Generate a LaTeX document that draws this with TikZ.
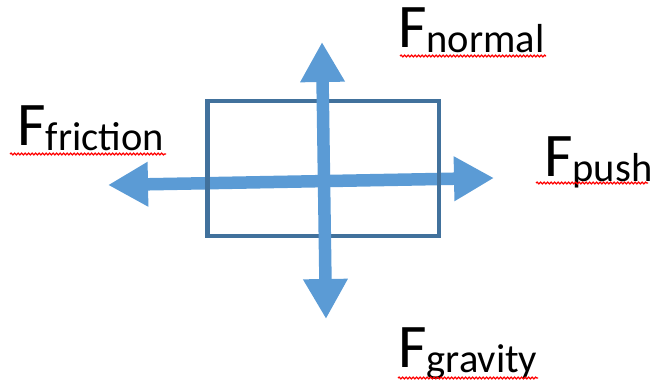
\documentclass[tikz,border=0pt]{standalone}
\usepackage{fontspec}
\setmainfont{Carlito}
\usetikzlibrary{arrows.meta,decorations.pathmorphing}
\definecolor{arrowblue}{HTML}{5B9BD5}
\definecolor{boxblue}{HTML}{41719C}
\tikzset{
  force/.style={line width=12.5pt, draw=arrowblue,
    {Triangle[width=42pt,length=40pt]}-{Triangle[width=42pt,length=40pt]}},
  body/.style={draw=boxblue, line width=4.5pt},
  flabel/.style={anchor=base west, inner sep=0pt, text=black},
  spell/.style={draw=red, line width=1.3pt,
    decorate, decoration={snake, amplitude=0.9pt, segment length=3.5pt}}
}
\newcommand{\flab}[1]{{\fontsize{62}{62}\selectfont F}\raisebox{-5pt}{\fontsize{40.5}{40}\selectfont #1}}
\begin{document}
\begin{tikzpicture}[x=1pt,y=-1pt]
\useasboundingbox (0,0) rectangle (652,381);
% arrow end points
\coordinate (hl) at (108,185);
\coordinate (hr) at (494,178);
\coordinate (vt) at (322,42);
\coordinate (vb) at (326,319);
\draw[force] (hl) -- (hr);
\draw[body] (207.5,101) rectangle (439,236);
\draw[force] (vb) -- (vt);
% labels
\node[flabel] (fn) at (398,47) {\flab{normal}};
\node[flabel] (ff) at (17,145) {\flab{friction}};
\node[flabel] (fp) at (544,176) {\flab{push}};
\node[flabel] (fg) at (398,367) {\flab{gravity}};
% spell-check underlines
\draw[spell] (400,56) -- (546,56);
\draw[spell] (10,154) -- (166,154);
\draw[spell] (536,183) -- (648,183);
\draw[spell] (398,378) -- (538,378);
\end{tikzpicture}
\end{document}
